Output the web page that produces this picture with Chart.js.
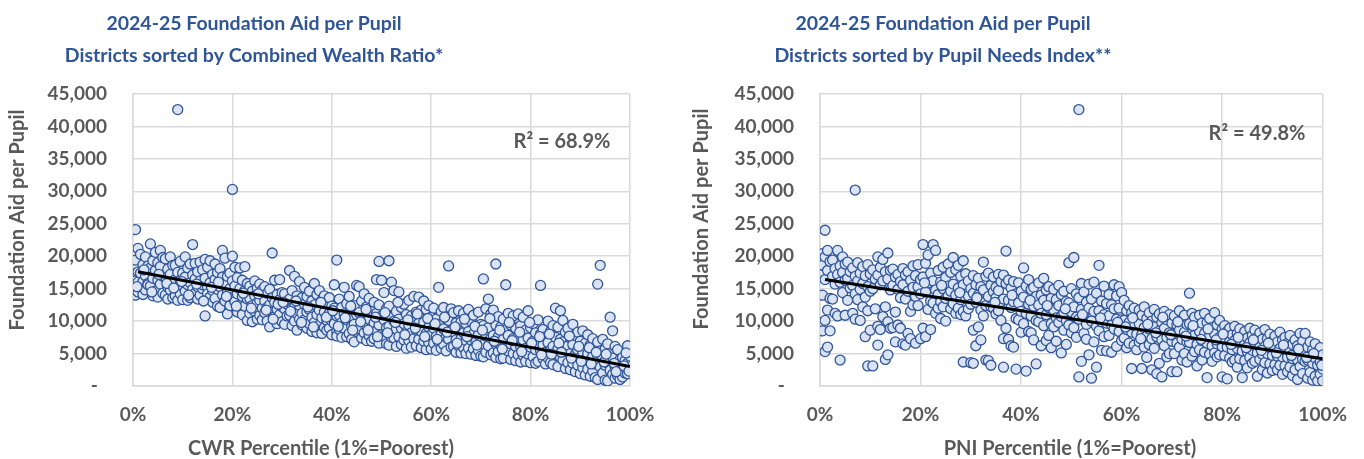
<!DOCTYPE html>
<html>
<head>
<meta charset="utf-8">
<script src="https://cdn.jsdelivr.net/npm/chart.js@4"></script>
<style>
  html, body { margin: 0; padding: 0; background: #fff; }
  .wrap { display: flex; width: 1364px; height: 459px; }
  canvas { display: block; }
</style>
</head>
<body>
<div class="wrap">
  <canvas id="cwrChart" width="682" height="459"></canvas>
  <canvas id="pniChart" width="682" height="459"></canvas>
</div>
<script>
// each row: [percentile, aid per pupil in $ thousands ...]
const cwrRows = [
  [0.5, 24.1, 19.4, 16.2, 14.0], [1, 21.2, 17.6, 14.5, 16.0],
  [1.5, 20.3, 17.4, 15.2], [2, 18.7, 16.1, 14.1],
  [2.5, 19.9, 17.0, 14.8], [3, 18.5, 15.8, 15.6],
  [3.5, 21.9, 18.2, 15.4], [4, 19.3, 16.6, 13.9],
  [4.5, 20.6, 17.8, 14.6], [5, 19.0, 16.3, 13.7],
  [5.5, 20.9, 18.4, 15.7], [6, 19.8, 16.9, 14.3],
  [6.5, 19.6, 16.8, 14.0], [7, 18.0, 15.2, 13.4],
  [7.5, 19.9, 17.2, 14.8], [8, 18.6, 16.0, 13.6],
  [8.5, 18.6, 16.4, 13.9], [9, 42.6, 17.5, 15.1, 13.2],
  [9.5, 19.2, 16.3, 14.2], [10, 17.4, 15.4, 13.3],
  [10.5, 19.9, 16.8, 14.6], [11, 18.2, 15.6, 13.2],
  [11.5, 18.8, 15.9, 13.6], [12, 21.8, 17.1, 14.9],
  [12.5, 18.9, 16.5, 14.3], [13, 17.6, 15.3, 13.4],
  [13.5, 19.1, 16.2, 14.0], [14, 17.9, 15.0, 15.6],
  [14.5, 19.5, 16.6, 10.8], [15, 18.3, 15.2, 14.2],
  [15.5, 19.3, 15.9, 13.7], [16, 17.2, 14.7, 12.9],
  [16.5, 18.8, 16.4, 13.5], [17, 17.5, 14.9, 12.3],
  [17.5, 18.1, 15.3, 12.1], [18, 20.9, 16.8, 14.0],
  [18.5, 19.7, 15.6, 13.1], [19, 16.9, 14.4, 11.1],
  [19.5, 17.4, 15.0, 12.4], [20, 30.3, 20.0, 16.2, 13.6],
  [20.5, 18.3, 15.4, 13.0], [21, 16.7, 14.2, 11.4],
  [21.5, 18.2, 15.0, 12.5], [22, 16.3, 13.8, 11.0],
  [22.5, 18.4, 14.7, 12.3], [23, 15.8, 13.4, 10.1],
  [23.5, 15.4, 13.5, 11.2], [24, 14.6, 12.4, 9.9],
  [24.5, 16.2, 13.9, 11.5], [25, 15.1, 12.8, 10.3],
  [25.5, 15.7, 13.2, 10.9], [26, 14.8, 12.0, 10.2],
  [26.5, 15.3, 13.1, 11.3], [27, 14.3, 12.1, 10.0],
  [27.5, 14.9, 12.5, 9.1], [28, 20.5, 13.6, 11.4],
  [28.5, 16.3, 12.9, 10.7], [29, 14.1, 11.8, 9.6],
  [29.5, 16.4, 13.3, 11.0], [30, 14.4, 12.2, 9.9],
  [30.5, 14.2, 11.9, 9.5], [31, 13.0, 10.8, 12.6],
  [31.5, 17.8, 13.4, 10.9], [32, 14.7, 12.0, 9.3],
  [32.5, 16.9, 12.2, 10.0], [33, 13.9, 11.1, 8.6],
  [33.5, 16.1, 12.4, 10.3], [34, 13.6, 11.2, 9.4],
  [34.5, 15.2, 12.6, 10.2], [35, 13.8, 11.4, 8.9],
  [35.5, 14.6, 11.8, 9.6], [36, 13.1, 10.6, 8.4],
  [36.5, 15.8, 12.5, 9.8], [37, 14.1, 11.0, 8.2],
  [37.5, 14.7, 11.7, 9.4], [38, 13.2, 10.5, 8.1],
  [38.5, 13.9, 11.4, 9.0], [39, 12.8, 10.1, 8.6],
  [39.5, 13.6, 11.2, 8.9], [40, 12.3, 10.0, 7.9],
  [40.5, 15.6, 12.0, 9.6], [41, 19.4, 10.8, 8.4, 7.7],
  [41.5, 13.4, 10.9, 8.7], [42, 12.1, 9.8, 7.5],
  [42.5, 15.2, 11.1, 8.9], [43, 12.7, 10.2, 7.6],
  [43.5, 13.8, 10.4, 8.1], [44, 11.8, 9.2, 7.2],
  [44.5, 12.4, 9.5, 6.8], [45, 15.5, 11.0, 8.4],
  [45.5, 15.3, 11.3, 8.8], [46, 13.1, 10.1, 7.4],
  [46.5, 14.2, 10.6, 8.2], [47, 12.2, 9.3, 7.0],
  [47.5, 13.5, 10.3, 7.8], [48, 11.6, 9.0, 6.9],
  [48.5, 12.9, 9.7, 7.3], [49, 16.4, 11.2, 8.5],
  [49.5, 19.2, 12.5, 9.4, 6.6], [50, 16.3, 10.8, 7.9],
  [50.5, 14.4, 10.2, 7.7], [51, 11.9, 9.0, 6.5],
  [51.5, 19.3, 12.3, 9.2, 6.3], [52, 16.0, 10.6, 7.5],
  [52.5, 14.7, 10.0, 7.4], [53, 11.5, 8.8, 6.1],
  [53.5, 14.5, 10.3, 7.6], [54, 12.1, 8.9, 6.4],
  [54.5, 12.6, 9.6, 7.1], [55, 11.0, 8.3, 5.8],
  [55.5, 13.2, 9.4, 7.0], [56, 10.8, 8.2, 6.0],
  [56.5, 13.8, 9.9, 7.3], [57, 11.4, 8.6, 6.2],
  [57.5, 13.7, 9.7, 7.2], [58, 11.7, 8.4, 5.9],
  [58.5, 13.1, 9.8, 6.9], [59, 11.8, 8.1, 5.6],
  [59.5, 12.4, 9.1, 6.7], [60, 10.6, 7.9, 5.7],
  [60.5, 12.0, 8.9, 6.6], [61, 10.3, 7.6, 5.5],
  [61.5, 15.2, 9.5, 6.8], [62, 11.5, 8.0, 5.8],
  [62.5, 12.1, 8.8, 6.4], [63, 10.4, 7.5, 5.4],
  [63.5, 18.5, 10.1, 7.2], [64, 11.9, 8.5, 6.0],
  [64.5, 11.3, 8.3, 6.1], [65, 9.7, 7.1, 5.2],
  [65.5, 11.6, 8.6, 6.2], [66, 9.9, 7.3, 5.1],
  [66.5, 11.2, 8.2, 5.9], [67, 9.6, 7.0, 5.0],
  [67.5, 11.8, 8.4, 5.8], [68, 10.0, 7.1, 4.9],
  [68.5, 10.9, 8.0, 5.7], [69, 9.2, 6.8, 4.7],
  [69.5, 11.4, 7.9, 5.5], [70, 9.5, 6.6, 4.6],
  [70.5, 16.5, 9.3, 6.4, 4.5], [71, 11.9, 7.7, 5.2],
  [71.5, 13.4, 9.0, 6.2], [72, 11.1, 7.4, 4.8],
  [72.5, 11.7, 7.8, 5.1], [73, 18.8, 9.4, 6.5, 4.4],
  [73.5, 10.7, 7.6, 5.3], [74, 9.1, 6.3, 4.2],
  [74.5, 10.3, 7.2, 4.3], [75, 15.6, 8.7, 6.0],
  [75.5, 11.2, 7.8, 5.4], [76, 9.4, 6.5, 4.1],
  [76.5, 10.8, 7.3, 5.0], [77, 8.9, 6.1, 3.9],
  [77.5, 11.1, 7.5, 4.8], [78, 9.3, 6.0, 3.7],
  [78.5, 10.6, 7.1, 4.7], [79, 8.6, 5.8, 3.8],
  [79.5, 11.6, 7.4, 4.9], [80, 9.0, 6.0, 3.6],
  [80.5, 9.6, 6.9, 4.5], [81, 8.2, 5.6, 3.5],
  [81.5, 10.2, 6.6, 3.8], [82, 15.5, 8.0, 5.4],
  [82.5, 8.7, 6.3, 4.2], [83, 7.6, 5.2, 3.4],
  [83.5, 10.0, 6.7, 4.3], [84, 8.4, 5.5, 3.6],
  [84.5, 9.3, 6.1, 3.3], [85, 12.0, 7.5, 4.8],
  [85.5, 9.1, 5.7, 3.0], [86, 11.6, 7.2, 4.4],
  [86.5, 10.1, 6.8, 4.0], [87, 8.3, 5.3, 2.7],
  [87.5, 8.9, 6.2, 3.6], [88, 7.4, 5.0, 2.5],
  [88.5, 9.5, 6.4, 3.5], [89, 7.8, 4.9, 2.2],
  [89.5, 8.3, 5.6, 3.2], [90, 6.9, 4.4, 1.9],
  [90.5, 8.5, 5.2, 2.8], [91, 6.6, 4.1, 1.7],
  [91.5, 7.9, 5.0, 2.6], [92, 6.3, 3.9, 1.5],
  [92.5, 7.3, 4.6, 2.3], [93, 5.9, 3.4, 1.3],
  [93.5, 15.7, 6.8, 4.2, 1.0], [94, 18.6, 5.4, 2.9],
  [94.5, 7.2, 4.4, 2.0], [95, 5.7, 3.2, 0.9],
  [95.5, 6.5, 3.6, 0.8], [96, 10.6, 5.0, 2.4],
  [96.5, 8.5, 4.3, 1.8], [97, 6.1, 3.0, 1.2],
  [97.5, 5.6, 3.3, 1.6], [98, 4.1, 2.5, 1.0],
  [98.5, 4.4, 2.7, 1.4], [99, 3.5, 2.0, 3.9],
  [99.5, 6.2, 3.5, 1.9], [100, 4.6, 2.6, 3.0]
];

// further CWR districts between the rows above: [percentile, $ thousands]
const cwrExtra = [
  [0.8, 15.3], [2.2, 17.9], [3.8, 14.5], [5.2, 17.2], [6.8, 15.8], [8.2, 15.1],
  [9.8, 16.1], [11.2, 14.0], [12.8, 15.7], [14.2, 13.1], [15.8, 15.2], [17.2, 16.0],
  [18.8, 13.8], [20.8, 12.3], [22.2, 14.3], [23.8, 12.0], [25.2, 14.2], [26.8, 11.7],
  [28.2, 10.3], [29.2, 12.6], [30.2, 12.9], [31.7, 11.5], [32.8, 13.1], [33.9, 9.8],
  [35.2, 12.2], [36.3, 9.1], [37.8, 12.9], [38.9, 10.6], [40.2, 11.6], [41.3, 9.2],
  [42.7, 10.5], [43.8, 12.3], [44.2, 8.6], [45.8, 9.9], [46.9, 11.8], [47.3, 8.6],
  [48.8, 10.6], [49.2, 7.6], [50.7, 11.3], [51.2, 8.2], [52.8, 9.8], [53.3, 12.9],
  [54.7, 7.9], [55.3, 10.2], [56.8, 8.9], [57.2, 11.1], [58.7, 7.6], [59.3, 10.4],
  [60.8, 9.6], [61.2, 7.2], [62.7, 10.6], [63.2, 8.3], [64.8, 9.1], [65.2, 6.6],
  [66.7, 10.3], [67.2, 7.6], [68.8, 9.2], [69.2, 6.3], [70.3, 8.6], [71.8, 10.4],
  [72.7, 6.9], [73.8, 8.6], [74.3, 5.7], [75.7, 9.8], [76.3, 7.0], [77.8, 8.3],
  [78.2, 5.3], [79.8, 9.8], [80.2, 6.6], [81.8, 7.6], [82.2, 4.8], [83.8, 8.0],
  [84.2, 4.9], [85.7, 6.6], [86.2, 5.2], [87.8, 7.7], [88.2, 4.3], [89.7, 6.1],
  [90.2, 3.8], [91.8, 5.9], [92.2, 3.4], [93.2, 5.2], [94.8, 3.7], [95.2, 4.9],
  [96.8, 3.5], [97.2, 2.2], [98.8, 3.1], [99.2, 5.1], [99.8, 2.3]
];

const pniRows = [
  [0.5, 20.4, 18.6, 14.0, 8.5], [1, 24.0, 19.9, 16.4, 10.1, 5.3],
  [1.5, 20.9, 17.8, 11.7, 6.0], [2, 19.2, 13.5, 8.5],
  [2.5, 19.4, 16.9, 13.4], [3, 18.1, 15.7, 11.2],
  [3.5, 20.9, 17.2, 10.8], [4, 18.5, 16.0, 4.0],
  [4.5, 19.9, 17.5, 14.4], [5, 18.8, 16.3, 10.9],
  [5.5, 19.1, 16.6, 13.2], [6, 17.6, 15.1],
  [6.5, 18.2, 15.5, 11.2], [7, 30.2, 16.9, 14.2, 10.3],
  [7.5, 19.0, 16.2, 13.3], [8, 17.4, 14.9, 10.1],
  [8.5, 18.4, 15.8, 12.2], [9, 17.0, 13.7, 7.6],
  [9.5, 18.7, 15.3, 11.6, 3.1], [10, 17.3, 14.6, 8.6],
  [10.5, 17.9, 15.0, 3.1], [11, 16.5, 11.9],
  [11.5, 19.9, 17.1, 9.2, 6.3], [12, 18.3, 15.6, 8.7],
  [12.5, 19.5, 16.2, 10.7], [13, 17.6, 12.2, 4.1],
  [13.5, 20.5, 16.5, 9.9, 4.8], [14, 17.8, 14.8, 8.9],
  [14.5, 18.0, 15.5, 9.0], [15, 16.8, 11.4, 6.8],
  [15.5, 17.2, 14.9, 9.4], [16, 16.1, 13.6, 8.9],
  [16.5, 18.1, 15.6, 6.5], [17, 17.1, 13.4, 6.3],
  [17.5, 17.6, 14.6, 8.1], [18, 16.3, 11.5, 7.3],
  [18.5, 18.5, 15.2, 12.5], [19, 17.0, 13.8, 6.6],
  [19.5, 18.7, 15.3, 12.4], [20, 16.4, 14.2, 7.3],
  [20.5, 21.8, 16.8, 8.9], [21, 18.9, 14.5, 7.6],
  [21.5, 20.2, 15.9, 11.8], [22, 17.4, 13.1, 8.7],
  [22.5, 21.8, 16.2, 12.8], [23, 20.9, 14.8, 11.2],
  [23.5, 17.8, 14.1, 12.0], [24, 16.0, 13.0, 10.4],
  [24.5, 18.3, 15.0, 12.2], [25, 16.7, 13.5, 10.0],
  [25.5, 18.8, 15.4, 13.9], [26, 17.5, 14.6, 11.9],
  [26.5, 19.8, 15.7, 12.7], [27, 17.9, 14.0, 11.2],
  [27.5, 18.6, 15.1, 12.0], [28, 16.9, 13.3, 11.0],
  [28.5, 19.3, 15.6, 11.5, 3.7], [29, 17.3, 13.6, 10.8],
  [29.5, 16.2, 13.9, 11.9], [30, 15.0, 12.6, 3.6],
  [30.5, 17.0, 14.3, 8.6, 3.5], [31, 15.6, 12.9, 6.2],
  [31.5, 16.6, 14.0, 9.1], [32, 15.3, 11.7, 7.1],
  [32.5, 19.1, 14.8, 10.8], [33, 16.9, 12.4, 4.0],
  [33.5, 17.4, 13.8, 3.9], [34, 15.5, 12.2, 3.2],
  [34.5, 16.8, 14.5, 12.0], [35, 15.2, 13.6, 11.1],
  [35.5, 17.2, 14.7, 11.6], [36, 16.1, 13.0, 10.1],
  [36.5, 17.1, 13.4, 7.3, 2.9], [37, 20.8, 15.8, 8.9],
  [37.5, 16.3, 13.2, 7.2], [38, 15.1, 12.1, 6.2],
  [38.5, 16.1, 13.0, 6.0], [39, 14.2, 10.4, 2.6],
  [39.5, 15.9, 12.8, 10.2], [40, 14.6, 11.5, 8.3],
  [40.5, 18.2, 13.7, 9.6], [41, 15.4, 11.2, 2.3],
  [41.5, 16.4, 12.6, 8.4], [42, 14.9, 10.8, 8.2],
  [42.5, 15.2, 12.3, 7.1], [43, 13.8, 10.1, 3.4],
  [43.5, 15.9, 12.5, 9.9], [44, 14.0, 11.2, 6.2],
  [44.5, 16.6, 13.2, 9.3], [45, 14.8, 11.0, 7.0],
  [45.5, 15.3, 12.1, 7.8], [46, 13.5, 9.6, 5.9],
  [46.5, 14.9, 11.7, 9.1], [47, 13.3, 10.5, 6.9],
  [47.5, 15.5, 12.4, 9.8], [48, 14.1, 10.7, 5.1],
  [48.5, 14.6, 11.3, 8.6], [49, 13.0, 10.0, 6.4],
  [49.5, 19.0, 12.8, 9.4], [50, 15.0, 11.4, 8.2],
  [50.5, 19.8, 12.2, 9.0], [51, 14.2, 10.6, 7.5],
  [51.5, 42.6, 13.6, 10.3, 1.4], [52, 15.8, 11.8, 3.8],
  [52.5, 14.5, 11.1, 8.1], [53, 12.9, 9.5, 7.2],
  [53.5, 15.7, 12.0, 4.8], [54, 13.4, 10.0, 1.2],
  [54.5, 16.0, 11.5, 6.8], [55, 14.3, 9.2, 2.9],
  [55.5, 18.6, 11.6, 8.5], [56, 13.1, 9.9, 5.5],
  [56.5, 15.4, 11.0, 7.6], [57, 12.7, 9.7, 5.4],
  [57.5, 14.1, 10.8, 7.8], [58, 12.5, 9.4, 5.2],
  [58.5, 15.6, 11.9, 8.8], [59, 13.9, 10.3, 6.1],
  [59.5, 15.3, 12.0, 8.4], [60, 14.4, 10.2, 7.0],
  [60.5, 13.2, 10.1, 7.4], [61, 11.6, 8.7, 5.9],
  [61.5, 12.4, 9.8, 6.6], [62, 11.3, 8.3, 2.7],
  [62.5, 12.0, 9.3, 6.3], [63, 10.7, 8.0, 5.6],
  [63.5, 11.7, 9.6, 6.8], [64, 10.9, 7.9, 2.7],
  [64.5, 12.2, 9.0, 6.0], [65, 10.4, 7.7, 4.4],
  [65.5, 11.3, 8.8, 6.4], [66, 10.0, 7.3, 2.5],
  [66.5, 11.8, 9.1, 5.8], [67, 10.6, 7.6, 1.9],
  [67.5, 11.1, 8.5, 3.5], [68, 9.8, 7.1, 1.4],
  [68.5, 11.5, 8.9, 6.2], [69, 10.2, 7.5, 4.5],
  [69.5, 11.0, 8.2, 5.0], [70, 9.7, 6.9, 2.2],
  [70.5, 10.8, 8.0, 5.0], [71, 9.4, 6.6, 2.2],
  [71.5, 11.6, 8.6, 6.0], [72, 10.1, 7.2, 4.0],
  [72.5, 10.9, 8.3, 5.0], [73, 9.5, 6.8, 3.7],
  [73.5, 14.3, 9.6, 6.7], [74, 11.2, 8.1, 4.6],
  [74.5, 10.6, 7.8, 5.3], [75, 9.2, 6.4, 3.1],
  [75.5, 10.9, 8.4, 5.6], [76, 9.7, 7.0, 4.0],
  [76.5, 11.2, 8.1, 5.2], [77, 9.8, 6.6, 1.3],
  [77.5, 10.4, 7.7, 4.9], [78, 9.0, 6.2, 3.8],
  [78.5, 11.3, 8.0, 5.1], [79, 9.4, 6.5, 4.5],
  [79.5, 10.1, 7.5, 4.8], [80, 8.8, 6.1, 1.4],
  [80.5, 9.3, 7.3, 4.7], [81, 8.4, 6.0, 1.1],
  [81.5, 8.9, 6.8, 4.3], [82, 7.9, 5.6, 3.7],
  [82.5, 9.2, 7.0, 4.0], [83, 8.1, 5.8, 2.9],
  [83.5, 8.8, 6.6, 4.2], [84, 7.7, 5.4, 1.3],
  [84.5, 8.4, 6.5, 3.9], [85, 7.4, 5.3, 2.8],
  [85.5, 8.9, 6.7, 4.4], [86, 7.8, 5.5, 3.5],
  [86.5, 8.6, 6.2, 3.8], [87, 7.5, 5.1, 1.5],
  [87.5, 8.2, 6.0, 4.1], [88, 7.2, 4.9, 2.5],
  [88.5, 8.7, 6.1, 3.6], [89, 7.3, 5.0, 2.0],
  [89.5, 8.0, 5.9, 3.4], [90, 6.9, 4.7, 2.4],
  [90.5, 7.7, 5.7, 3.3], [91, 6.8, 4.6, 2.5],
  [91.5, 8.3, 5.8, 3.2], [92, 7.1, 4.5, 1.8],
  [92.5, 7.5, 5.5, 3.1], [93, 6.6, 4.4, 2.2],
  [93.5, 7.8, 5.3, 2.9], [94, 6.4, 4.2, 1.6],
  [94.5, 7.1, 5.0, 2.5], [95, 6.2, 4.0, 1.0],
  [95.5, 8.1, 5.4, 3.0], [96, 6.9, 4.1, 1.9],
  [96.5, 8.1, 4.9, 3.8], [97, 6.0, 4.0, 1.2],
  [97.5, 6.8, 4.6, 2.1], [98, 5.6, 3.5, 0.9],
  [98.5, 6.5, 4.3, 1.5], [99, 5.3, 3.2, 0.8],
  [99.5, 5.9, 3.7, 1.8], [100, 4.8, 2.6, 0.8]
];

// further PNI districts between the rows above: [percentile, $ thousands]
const pniExtra = [
  [20.8, 15.9], [24.2, 15.5], [27.8, 14.4], [31.2, 13.6], [34.8, 12.9], [38.2, 14.0],
  [41.8, 13.2], [45.2, 12.4], [48.8, 11.9], [52.2, 11.0], [55.8, 10.5], [59.2, 9.8],
  [60.8, 9.1], [62.2, 10.5], [63.8, 7.3], [65.2, 9.5], [66.8, 8.2], [68.2, 10.6],
  [69.8, 7.9], [71.2, 9.9], [72.8, 7.7], [74.2, 9.3], [75.8, 7.2], [77.2, 8.8],
  [78.8, 7.1], [80.2, 8.0], [81.8, 6.4], [83.2, 7.5], [84.8, 5.9], [86.2, 7.1],
  [87.8, 5.5], [89.2, 6.6], [90.8, 5.1], [92.2, 6.3], [93.8, 4.7], [95.2, 5.7],
  [96.8, 4.4], [98.2, 5.0], [99.8, 3.2]
];

// linear trend end points [percentile, $ thousands]
const cwrTrend = [[1, 17.6], [100, 3.0]];
const pniTrend = [[1, 16.4], [100, 4.2]];

const cwrR2 = 'R² = 68.9%';
const pniR2 = 'R² = 49.8%';

const xTicks = [0, 20, 40, 60, 80, 100];
const yTicks = [0, 5000, 10000, 15000, 20000, 25000, 30000, 35000, 40000, 45000];

const FONT = 'Lato, "Open Sans", sans-serif';
const BLUE = '#2F5597';
const GRAY = '#595959';
const GRID = '#D9D9D9';

function toPoints(rows, extra) {
  const pts = [];
  rows.forEach(r => {
    for (let i = 1; i < r.length; i++) pts.push({ x: r[0], y: r[i] * 1000 });
  });
  extra.forEach(p => pts.push({ x: p[0], y: p[1] * 1000 }));
  return pts;
}

function toLine(pairs) {
  return pairs.map(p => ({ x: p[0], y: p[1] * 1000 }));
}

// free text: titles, axis titles, R² note
const textPlugin = {
  id: 'freeText',
  afterDraw(chart, args, opts) {
    const ctx = chart.ctx;
    (opts.items || []).forEach(t => {
      ctx.save();
      ctx.font = 'bold ' + t.size + 'px ' + FONT;
      ctx.fillStyle = t.color;
      ctx.textAlign = 'center';
      ctx.textBaseline = 'alphabetic';
      ctx.translate(t.x, t.y);
      if (t.rot) ctx.rotate(t.rot);
      ctx.fillText(t.text, 0, 0);
      ctx.restore();
    });
  }
};

function makeChart(id, rows, extra, trend, cfg) {
  new Chart(document.getElementById(id), {
    type: 'scatter',
    data: {
      datasets: [
        {
          data: toLine(trend),
          showLine: true,
          borderColor: '#000',
          borderWidth: 3,
          pointRadius: 0,
          order: 0
        },
        {
          data: toPoints(rows, extra),
          pointRadius: 5,
          pointBackgroundColor: '#DAE3F3',
          pointBorderColor: BLUE,
          pointBorderWidth: 1.3,
          order: 1
        }
      ]
    },
    options: {
      responsive: false,
      animation: false,
      layout: { padding: { left: 0, right: cfg.padRight, top: 94, bottom: 0 } },
      plugins: {
        legend: { display: false },
        tooltip: { enabled: false },
        freeText: { items: cfg.texts }
      },
      scales: {
        x: {
          type: 'linear',
          min: 0,
          max: 100,
          afterBuildTicks: s => { s.ticks = xTicks.map(v => ({ value: v })); },
          afterFit: s => { s.height = 73; },
          grid: { color: GRID, lineWidth: 1.5, drawTicks: false },
          border: { color: GRID, width: 1.5 },
          ticks: {
            padding: 17,
            color: GRAY,
            font: { family: FONT, size: 19, weight: 'bold' },
            callback: v => v + '%'
          }
        },
        y: {
          min: 0,
          max: 45000,
          afterBuildTicks: s => { s.ticks = yTicks.map(v => ({ value: v })); },
          afterFit: s => { s.width = cfg.axisWidth; },
          grid: { color: GRID, lineWidth: 1.5, drawTicks: false },
          border: { color: GRID, width: 1.5 },
          ticks: {
            padding: 26,
            color: GRAY,
            font: { family: FONT, size: 19, weight: 'bold' },
            callback: v => v === 0 ? '-  ' : v.toLocaleString('en-US')
          }
        }
      }
    },
    plugins: [textPlugin]
  });
}

makeChart('cwrChart', cwrRows, cwrExtra, cwrTrend, {
  padRight: 52,
  axisWidth: 133,
  texts: [
    { text: '2024-25 Foundation Aid per Pupil', x: 254, y: 30, size: 19.5, color: BLUE },
    { text: 'Districts sorted by Combined Wealth Ratio*', x: 254, y: 62, size: 19.5, color: BLUE },
    { text: 'Foundation Aid per Pupil', x: 24, y: 220, size: 20, color: GRAY, rot: -Math.PI / 2 },
    { text: 'CWR Percentile (1%=Poorest)', x: 321, y: 455, size: 20, color: GRAY },
    { text: cwrR2, x: 562, y: 148, size: 20, color: GRAY }
  ]
});

makeChart('pniChart', pniRows, pniExtra, pniTrend, {
  padRight: 40,
  axisWidth: 138,
  texts: [
    { text: '2024-25 Foundation Aid per Pupil', x: 261, y: 30, size: 19.5, color: BLUE },
    { text: 'Districts sorted by Pupil Needs Index**', x: 261, y: 62, size: 19.5, color: BLUE },
    { text: 'Foundation Aid per Pupil', x: 26, y: 219, size: 20, color: GRAY, rot: -Math.PI / 2 },
    { text: 'PNI Percentile (1%=Poorest)', x: 388, y: 455, size: 20, color: GRAY },
    { text: pniR2, x: 575, y: 140, size: 20, color: GRAY }
  ]
});
</script>
</body>
</html>
